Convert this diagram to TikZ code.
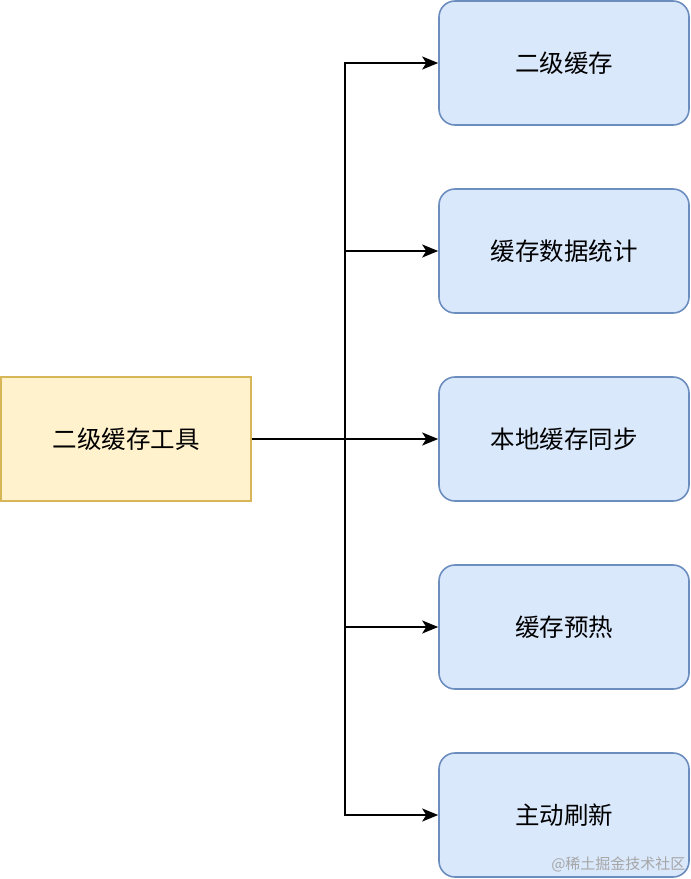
\documentclass[tikz,border=0pt]{standalone}
\usepackage{fontspec}
\setmainfont{Noto Sans CJK SC}
\newfontfamily\markfont{Noto Sans CJK SC}
\usetikzlibrary{positioning, arrows.meta}

\definecolor{toolfill}{HTML}{FFF2CC}
\definecolor{tooldraw}{HTML}{D6B656}
\definecolor{itemfill}{HTML}{DAE8FC}
\definecolor{itemdraw}{HTML}{6C8EBF}

\tikzset{
    tool/.style={draw=tooldraw, fill=toolfill, line width=1.6pt, minimum width=250pt, minimum height=124pt, font=\fontsize{24.5}{28}\selectfont},
    item/.style={draw=itemdraw, fill=itemfill, line width=1.6pt, rounded corners=16pt, minimum width=250pt, minimum height=124pt, font=\fontsize{24.5}{28}\selectfont},
    link/.style={line width=1.8pt, -{Stealth[length=16pt, width=13pt, inset=4pt]}}
}

\begin{document}
\begin{tikzpicture}[node distance=188pt, on grid]
        \useasboundingbox (0,0) rectangle (691pt,-879pt);
        \node[tool] (tool) at (126pt,-439pt) {二级缓存工具};
        \node[item] (sync) [right=438pt of tool] {本地缓存同步};
        \node[item] (stats) [above=of sync] {缓存数据统计};
        \node[item] (cache) [above=of stats] {二级缓存};
        \node[item] (warm) [below=of sync] {缓存预热};
        \node[item] (refresh) [below=of warm] {主动刷新};
        \coordinate (split) at (345pt,-439pt);

        \draw[line width=1.8pt] (tool.east) -- (split);
        \draw[link] (split) |- (cache.west);
        \draw[link] (split) |- (stats.west);
        \draw[link] (split) -- (sync.west);
        \draw[link] (split) |- (warm.west);
        \draw[link] (split) |- (refresh.west);

        \node[anchor=east, text=black!35, font=\markfont\fontsize{15}{17}\selectfont] (mark) at (689pt,-864pt) {@稀土掘金技术社区};
    \end{tikzpicture}
\end{document}
